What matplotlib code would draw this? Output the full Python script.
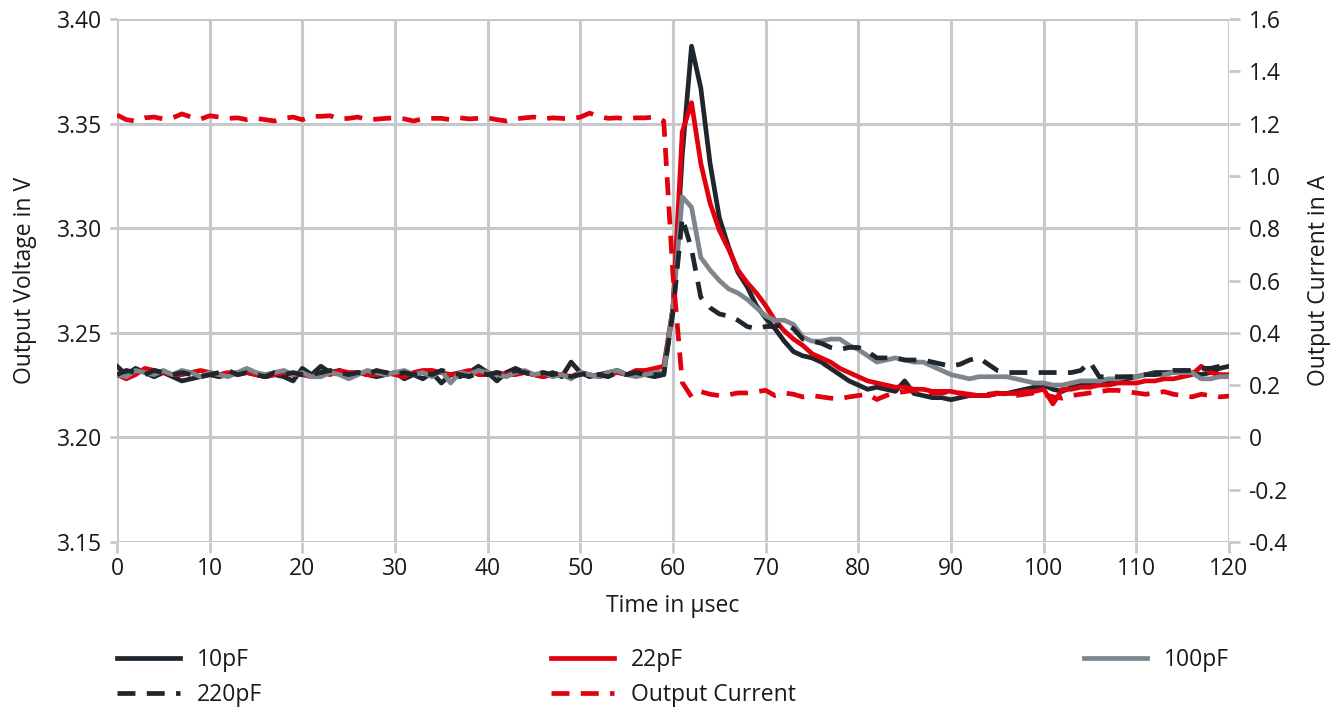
import matplotlib as mpl
from matplotlib import pyplot as plt
import numpy as np

plt.rcParams['font.family'] = ['Open Sans', 'DejaVu Sans']
mpl.rcParams['axes.unicode_minus'] = False

time_us = list(range(0, 121))

# 10pF
v_10pF = [3.234, 3.230, 3.233, 3.231, 3.229, 3.231, 3.229, 3.227, 3.228, 3.229,
          3.230, 3.229, 3.230, 3.231, 3.231, 3.230, 3.229, 3.230, 3.229, 3.227,
          3.233, 3.230, 3.234, 3.231, 3.232, 3.230, 3.231, 3.230, 3.229, 3.230,
          3.231, 3.228, 3.230, 3.228, 3.231, 3.226, 3.230, 3.229, 3.231, 3.234,
          3.231, 3.227, 3.231, 3.233, 3.231, 3.230, 3.229, 3.231, 3.229, 3.236,
          3.231, 3.229, 3.230, 3.231, 3.232, 3.230, 3.231, 3.230, 3.229,
          3.230, 3.262, 3.335, 3.387, 3.367, 3.331, 3.305, 3.291, 3.279, 3.272,
          3.263, 3.257, 3.252, 3.246, 3.241, 3.239, 3.238, 3.236, 3.233, 3.230,
          3.227, 3.225, 3.223, 3.224, 3.223, 3.222, 3.227, 3.221, 3.220, 3.219,
          3.219, 3.218, 3.219, 3.220, 3.220, 3.220, 3.221, 3.221, 3.222, 3.223,
          3.224, 3.225, 3.223, 3.222, 3.224, 3.225, 3.225, 3.226, 3.227, 3.228,
          3.228, 3.229, 3.230, 3.231, 3.231, 3.231, 3.232, 3.231, 3.230, 3.231,
          3.233, 3.234]

# 22pF
v_22pF = [3.230, 3.228, 3.230, 3.233, 3.232, 3.231, 3.230, 3.230, 3.231, 3.232,
          3.231, 3.230, 3.231, 3.230, 3.231, 3.230, 3.229, 3.230, 3.231, 3.230,
          3.230, 3.229, 3.231, 3.230, 3.232, 3.231, 3.231, 3.230, 3.230, 3.231,
          3.230, 3.229, 3.231, 3.232, 3.232, 3.231, 3.230, 3.231, 3.232, 3.230,
          3.230, 3.231, 3.230, 3.230, 3.231, 3.230, 3.229, 3.230, 3.230, 3.229,
          3.231, 3.230, 3.229, 3.230, 3.231, 3.230, 3.232, 3.232, 3.233,
          3.234, 3.262, 3.346, 3.360, 3.331, 3.312, 3.299, 3.290, 3.280, 3.274,
          3.269, 3.263, 3.256, 3.251, 3.247, 3.244, 3.240, 3.238, 3.236, 3.233,
          3.231, 3.229, 3.227, 3.226, 3.225, 3.224, 3.224, 3.223, 3.223, 3.222,
          3.222, 3.222, 3.221, 3.220, 3.220, 3.220, 3.221, 3.221, 3.221, 3.222,
          3.222, 3.223, 3.216, 3.223, 3.223, 3.224, 3.224, 3.225, 3.225, 3.226,
          3.226, 3.226, 3.227, 3.227, 3.228, 3.228, 3.229, 3.230, 3.234, 3.231,
          3.230, 3.230]

# 100pF
v_100pF = [3.230, 3.229, 3.232, 3.231, 3.230, 3.232, 3.230, 3.232, 3.231, 3.229,
           3.231, 3.230, 3.229, 3.231, 3.233, 3.231, 3.230, 3.231, 3.232, 3.230,
           3.231, 3.229, 3.229, 3.231, 3.230, 3.228, 3.230, 3.232, 3.231, 3.230,
           3.231, 3.232, 3.230, 3.231, 3.229, 3.232, 3.226, 3.231, 3.230, 3.232,
           3.231, 3.230, 3.229, 3.231, 3.232, 3.230, 3.231, 3.229, 3.230, 3.228,
           3.231, 3.230, 3.229, 3.231, 3.232, 3.230, 3.229, 3.230, 3.231,
           3.231, 3.262, 3.315, 3.310, 3.286, 3.280, 3.275, 3.271, 3.269, 3.266,
           3.262, 3.258, 3.256, 3.256, 3.254, 3.248, 3.246, 3.246, 3.247, 3.247,
           3.244, 3.242, 3.239, 3.236, 3.237, 3.238, 3.237, 3.236, 3.236, 3.234,
           3.232, 3.230, 3.229, 3.228, 3.229, 3.229, 3.229, 3.229, 3.228, 3.227,
           3.226, 3.226, 3.225, 3.225, 3.226, 3.227, 3.227, 3.227, 3.228, 3.228,
           3.229, 3.229, 3.230, 3.230, 3.230, 3.231, 3.231, 3.231, 3.228, 3.228,
           3.229, 3.229]

# 220pF
v_220pF = [3.230, 3.232, 3.231, 3.230, 3.232, 3.231, 3.230, 3.231, 3.230, 3.229,
           3.230, 3.231, 3.232, 3.230, 3.231, 3.230, 3.229, 3.231, 3.230, 3.231,
           3.230, 3.230, 3.231, 3.232, 3.231, 3.230, 3.231, 3.230, 3.232, 3.231,
           3.230, 3.231, 3.230, 3.231, 3.230, 3.232, 3.231, 3.230, 3.229, 3.231,
           3.230, 3.231, 3.230, 3.232, 3.231, 3.230, 3.231, 3.230, 3.231, 3.229,
           3.230, 3.231, 3.230, 3.229, 3.231, 3.230, 3.231, 3.230, 3.230,
           3.230, 3.260, 3.305, 3.290, 3.267, 3.262, 3.259, 3.258, 3.256, 3.253,
           3.252, 3.253, 3.253, 3.254, 3.252, 3.247, 3.246, 3.245, 3.243, 3.242,
           3.243, 3.243, 3.241, 3.238, 3.238, 3.238, 3.237, 3.237, 3.237, 3.236,
           3.235, 3.234, 3.235, 3.237, 3.238, 3.235, 3.232, 3.231, 3.231, 3.231,
           3.231, 3.231, 3.231, 3.231, 3.231, 3.232, 3.236, 3.229, 3.229, 3.229,
           3.229, 3.229, 3.230, 3.230, 3.231, 3.232, 3.232, 3.232, 3.233, 3.233,
           3.234, 3.234]

# Output current (A)
i_out = [1.233, 1.215, 1.210, 1.222, 1.225, 1.218, 1.222, 1.237, 1.225, 1.217,
         1.230, 1.225, 1.220, 1.222, 1.215, 1.220, 1.215, 1.210, 1.220, 1.225,
         1.215, 1.228, 1.228, 1.230, 1.218, 1.220, 1.225, 1.215, 1.217, 1.220,
         1.222, 1.218, 1.210, 1.218, 1.220, 1.220, 1.215, 1.222, 1.218, 1.220,
         1.222, 1.215, 1.210, 1.218, 1.222, 1.225, 1.218, 1.222, 1.220, 1.218,
         1.225, 1.240, 1.228, 1.220, 1.222, 1.218, 1.222, 1.222, 1.225,
         1.210, 0.620, 0.210, 0.155, 0.175, 0.165, 0.160, 0.163, 0.170, 0.170,
         0.175, 0.180, 0.160, 0.170, 0.165, 0.155, 0.160, 0.155, 0.150, 0.148,
         0.155, 0.160, 0.165, 0.145, 0.160, 0.170, 0.175, 0.180, 0.175, 0.170,
         0.170, 0.175, 0.170, 0.165, 0.160, 0.165, 0.170, 0.165, 0.160, 0.165,
         0.170, 0.165, 0.155, 0.150, 0.160, 0.165, 0.170, 0.175, 0.180, 0.180,
         0.175, 0.170, 0.165, 0.170, 0.175, 0.165, 0.160, 0.155, 0.165, 0.160,
         0.155, 0.158]

c_black = '#1f262c'
c_red = '#e2000f'
c_gray = '#7d868c'
c_grid = '#c6c9cc'
c_text = '#1a1a1a'
fs = 16.5

fig = plt.figure(figsize=(13.41, 7.10), dpi=100)
ax = fig.add_axes([117/1341, 1-542/710, 1112/1341, 523/710])
ax2 = ax.twinx()

lw = 3.4
dash = (3.8, 2.4)
l10, = ax.plot(time_us, v_10pF, color=c_black, lw=lw, label='10pF')
l22, = ax.plot(time_us, v_22pF, color=c_red, lw=lw, label='22pF')
l100, = ax.plot(time_us, v_100pF, color=c_gray, lw=lw, label='100pF')
l220, = ax.plot(time_us, v_220pF, color=c_black, lw=lw, dashes=dash, label='220pF')
lcur, = ax2.plot(time_us, i_out, color=c_red, lw=lw, dashes=dash, label='Output Current')

ax.set_xlim(0, 120)
ax.set_ylim(3.15, 3.40)
ax2.set_ylim(-0.4, 1.6)
ax.set_xticks(np.arange(0, 121, 10))
ax.set_yticks([3.15, 3.20, 3.25, 3.30, 3.35, 3.40])
ax.set_yticklabels(['3.15', '3.20', '3.25', '3.30', '3.35', '3.40'])
ax2.set_yticks(np.arange(-0.4, 1.61, 0.2))
ax2.set_yticklabels(['-0.4', '-0.2', '0', '0.2', '0.4', '0.6', '0.8', '1.0', '1.2', '1.4', '1.6'])

ax.grid(True, color=c_grid, lw=2.2)
ax.set_axisbelow(True)
for a in (ax, ax2):
    for s in a.spines.values():
        s.set_visible(False)
ax.tick_params(axis='x', length=8, width=2, color=c_grid, labelsize=fs, labelcolor=c_text, pad=3)
ax.tick_params(axis='y', length=5, width=2, color=c_grid, labelsize=fs, labelcolor=c_text, pad=6)
ax2.tick_params(axis='y', length=8, width=2, color=c_grid, labelsize=fs, labelcolor=c_text, pad=6)

ax.set_xlabel('Time in µsec', fontsize=fs, color=c_text, labelpad=9)
ax.set_ylabel('Output Voltage in V', fontsize=fs, color=c_text, labelpad=14)
ax2.set_ylabel('Output Current in A', fontsize=fs, color=c_text, labelpad=14)

fig.legend([l10, l220, l22, lcur, l100], ['10pF', '220pF', '22pF', 'Output Current', '100pF'],
           loc='upper left', bbox_to_anchor=(117/1341, 1-655/710, 1112/1341, 0.01),
           mode='expand', ncol=3, frameon=False, fontsize=fs, handlelength=2.75,
           handletextpad=0.75, labelspacing=0.5, borderpad=0, borderaxespad=0,
           labelcolor=c_text)

fig.savefig('out.png', dpi=100)
